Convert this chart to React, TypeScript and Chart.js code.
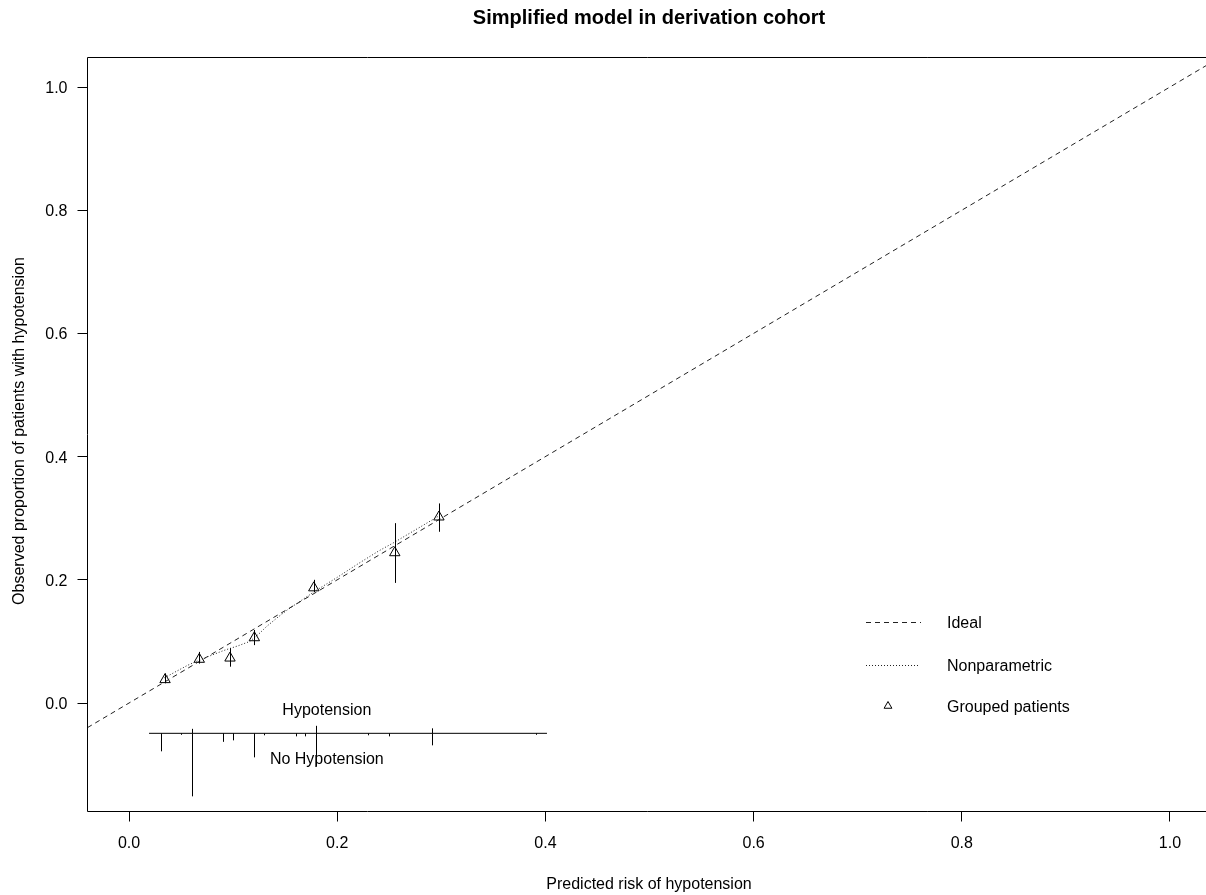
import React, { useEffect, useRef } from 'react';
import { Chart, registerables } from 'chart.js';

Chart.register(...registerables);

const FONT = "'Liberation Sans', Arial, Helvetica, sans-serif";

// ---- data ----
const chartTitle = 'Simplified model in derivation cohort';
const xTitle = 'Predicted risk of hypotension';
const yTitle = 'Observed proportion of patients with hypotension';

const xTicks = [0, 0.2, 0.4, 0.6, 0.8, 1.0];
const yTicks = [0, 0.2, 0.4, 0.6, 0.8, 1.0];
const xRange = [-0.0399, 1.0346];
const yRange = [-0.1761, 1.0479];

// ideal line y = x
const idealX = [-0.0399, 1.0346];

// nonparametric (lowess) calibration curve
const npX = [0.034, 0.045, 0.056, 0.0675, 0.08, 0.0905, 0.105, 0.116, 0.124, 0.132, 0.142, 0.152, 0.165, 0.18, 0.2, 0.22, 0.24, 0.255, 0.27, 0.285, 0.298];
const npY = [0.041, 0.051, 0.061, 0.0698, 0.078, 0.085, 0.093, 0.1, 0.111, 0.124, 0.138, 0.151, 0.166, 0.183, 0.204, 0.226, 0.247, 0.261, 0.276, 0.291, 0.304];

// grouped patients
const groupX = [0.0346, 0.0675, 0.097, 0.1204, 0.1775, 0.2553, 0.2977];
const groupY = [0.038, 0.071, 0.073, 0.106, 0.187, 0.244, 0.302];
const groupLo = [0.032, 0.064, 0.059, 0.094, 0.18, 0.195, 0.278];
const groupHi = [0.048, 0.083, 0.089, 0.1185, 0.2, 0.292, 0.324];

// spike histogram (rug) of predicted risks
const rugX = [0.0305, 0.0502, 0.0605, 0.0903, 0.0999, 0.1201, 0.1297, 0.16, 0.1695, 0.1798, 0.2298, 0.2502, 0.2911, 0.3907];
const rugEvents = [0, 0, 0.0073, 0, 0, 0, 0, 0, 0, 0.0122, 0, 0, 0.0081, 0];
const rugNonEvents = [0.0292, 0.0024, 0.1023, 0.0138, 0.0114, 0.039, 0.0032, 0.0049, 0.0049, 0.0536, 0.0032, 0.0049, 0.0195, 0.0024];
const rugRange = [0.0192, 0.4015];
const rugBase = -0.0492;
const rugLabels = ['Hypotension', 'No Hypotension'];
const rugLabelX = 0.19;
const rugLabelY = [-0.0125, -0.0925];

const legendLabels = ['Ideal', 'Nonparametric', 'Grouped patients'];

const overlayPlugin = {
  id: 'overlay',
  afterDatasetsDraw(chart: any) {
    const { ctx, chartArea: ca } = chart;
    const xs = chart.scales.x;
    const ys = chart.scales.y;
    ctx.save();
    ctx.strokeStyle = '#000';
    ctx.lineWidth = 1;
    ctx.setLineDash([]);
    // error bars
    ctx.beginPath();
    groupX.forEach((gx, i) => {
      const px = Math.round(xs.getPixelForValue(gx)) + 0.5;
      ctx.moveTo(px, ys.getPixelForValue(groupLo[i]));
      ctx.lineTo(px, ys.getPixelForValue(groupHi[i]));
    });
    ctx.stroke();
    // rug spikes
    const by = ys.getPixelForValue(rugBase);
    ctx.beginPath();
    rugX.forEach((rx, i) => {
      const px = Math.round(xs.getPixelForValue(rx)) + 0.5;
      if (rugEvents[i] > 0) {
        ctx.moveTo(px, by);
        ctx.lineTo(px, ys.getPixelForValue(rugBase + rugEvents[i]));
      }
      if (rugNonEvents[i] > 0) {
        ctx.moveTo(px, by);
        ctx.lineTo(px, ys.getPixelForValue(rugBase - rugNonEvents[i]));
      }
    });
    ctx.stroke();
    // rug labels
    ctx.fillStyle = '#000';
    ctx.font = `16px ${FONT}`;
    ctx.textAlign = 'center';
    ctx.textBaseline = 'middle';
    rugLabels.forEach((t, i) => {
      ctx.fillText(t, xs.getPixelForValue(rugLabelX), ys.getPixelForValue(rugLabelY[i]));
    });
    // box (left, top, bottom)
    ctx.beginPath();
    const l = Math.floor(ca.left) + 0.5;
    const t = Math.floor(ca.top) + 0.5;
    const b = Math.floor(ca.bottom) + 0.5;
    ctx.moveTo(ca.right + 2, t);
    ctx.lineTo(l, t);
    ctx.lineTo(l, b);
    ctx.lineTo(ca.right + 2, b);
    ctx.stroke();
    ctx.restore();
  },
  afterDraw(chart: any) {
    const { ctx } = chart;
    ctx.save();
    ctx.fillStyle = '#000';
    // main title
    ctx.font = `bold 20px ${FONT}`;
    ctx.textAlign = 'center';
    ctx.textBaseline = 'middle';
    ctx.fillText(chartTitle, 649, 18.5);
    // axis titles
    ctx.font = `16px ${FONT}`;
    ctx.fillText(xTitle, 649, 884.5);
    ctx.save();
    ctx.translate(20, 431);
    ctx.rotate(-Math.PI / 2);
    ctx.fillText(yTitle, 0, 0);
    ctx.restore();
    // legend
    const lx0 = 866, lx1 = 921, tx = 947;
    const rows = [622.5, 665.5, 707];
    ctx.strokeStyle = '#222';
    ctx.lineWidth = 1;
    ctx.setLineDash([5, 4]);
    ctx.beginPath();
    ctx.moveTo(lx0, rows[0]);
    ctx.lineTo(lx1, rows[0]);
    ctx.stroke();
    ctx.setLineDash([1, 2]);
    ctx.beginPath();
    ctx.moveTo(lx0, rows[1]);
    ctx.lineTo(lx1 - 2, rows[1]);
    ctx.stroke();
    ctx.setLineDash([]);
    const cx = 888, cy = 706, r = 4.5;
    ctx.beginPath();
    ctx.moveTo(cx, cy - r);
    ctx.lineTo(cx + r * Math.sin(2 * Math.PI / 3), cy + r / 2);
    ctx.lineTo(cx - r * Math.sin(2 * Math.PI / 3), cy + r / 2);
    ctx.closePath();
    ctx.strokeStyle = '#000';
    ctx.stroke();
    ctx.textAlign = 'left';
    ctx.fillStyle = '#000';
    legendLabels.forEach((lab, i) => {
      ctx.fillText(lab, tx, rows[i] + 1);
    });
    ctx.restore();
  },
};

export default function App() {
  const ref = useRef<HTMLCanvasElement | null>(null);
  useEffect(() => {
    document.body.style.margin = '0';
    const canvas = ref.current;
    if (!canvas) return;
    const chart = new Chart(canvas, {
      type: 'scatter',
      data: {
        datasets: [
          {
            label: 'Ideal',
            data: idealX.map((v) => ({ x: v, y: v })),
            showLine: true,
            borderColor: '#222',
            borderWidth: 1,
            borderDash: [5, 4],
            pointRadius: 0,
            fill: false,
          },
          {
            label: 'Nonparametric',
            data: npX.map((v, i) => ({ x: v, y: npY[i] })),
            showLine: true,
            borderColor: '#222',
            borderWidth: 1,
            borderDash: [1, 2],
            pointRadius: 0,
            fill: false,
          },
          {
            label: 'Grouped patients',
            data: groupX.map((v, i) => ({ x: v, y: groupY[i] })),
            showLine: false,
            pointStyle: 'triangle',
            pointRadius: 6,
            pointBorderColor: '#000',
            pointBackgroundColor: 'rgba(0,0,0,0)',
            pointBorderWidth: 1,
          },
          {
            label: 'rug',
            data: rugRange.map((v) => ({ x: v, y: rugBase })),
            showLine: true,
            borderColor: '#000',
            borderWidth: 1,
            pointRadius: 0,
            fill: false,
          },
        ],
      },
      options: {
        animation: false,
        responsive: false,
        devicePixelRatio: 1,
        layout: { autoPadding: false, padding: { top: 57.5, right: 0, bottom: 0, left: 0 } },
        plugins: {
          legend: { display: false },
          title: { display: false },
          tooltip: { enabled: false },
        },
        events: [],
        scales: {
          x: {
            type: 'linear',
            min: xRange[0],
            max: xRange[1],
            afterFit: (s: any) => { s.height = 83.5; },
            afterBuildTicks: (s: any) => { s.ticks = xTicks.map((v) => ({ value: v })); },
            grid: { drawOnChartArea: false, drawTicks: true, tickLength: 10, color: '#000', lineWidth: 1 },
            border: { display: false },
            ticks: {
              padding: 12,
              color: '#000',
              maxRotation: 0,
              autoSkip: false,
              font: { size: 16, family: FONT },
              callback: (v: any) => Number(v).toFixed(1),
            },
          },
          y: {
            type: 'linear',
            min: yRange[0],
            max: yRange[1],
            afterFit: (s: any) => { s.width = 87.5; },
            afterBuildTicks: (s: any) => { s.ticks = yTicks.map((v) => ({ value: v })); },
            grid: { drawOnChartArea: false, drawTicks: true, tickLength: 10, color: '#000', lineWidth: 1 },
            border: { display: false },
            ticks: {
              padding: 10,
              labelOffset: 1.5,
              color: '#000',
              autoSkip: false,
              font: { size: 16, family: FONT },
              callback: (v: any) => Number(v).toFixed(1),
            },
          },
        },
      },
      plugins: [overlayPlugin],
    } as any);
    return () => chart.destroy();
  }, []);
  return (
    <div style={{ width: 1206, height: 895, background: '#fff' }}>
      <canvas ref={ref} width={1206} height={895} style={{ display: 'block', width: 1206, height: 895 }} />
    </div>
  );
}
